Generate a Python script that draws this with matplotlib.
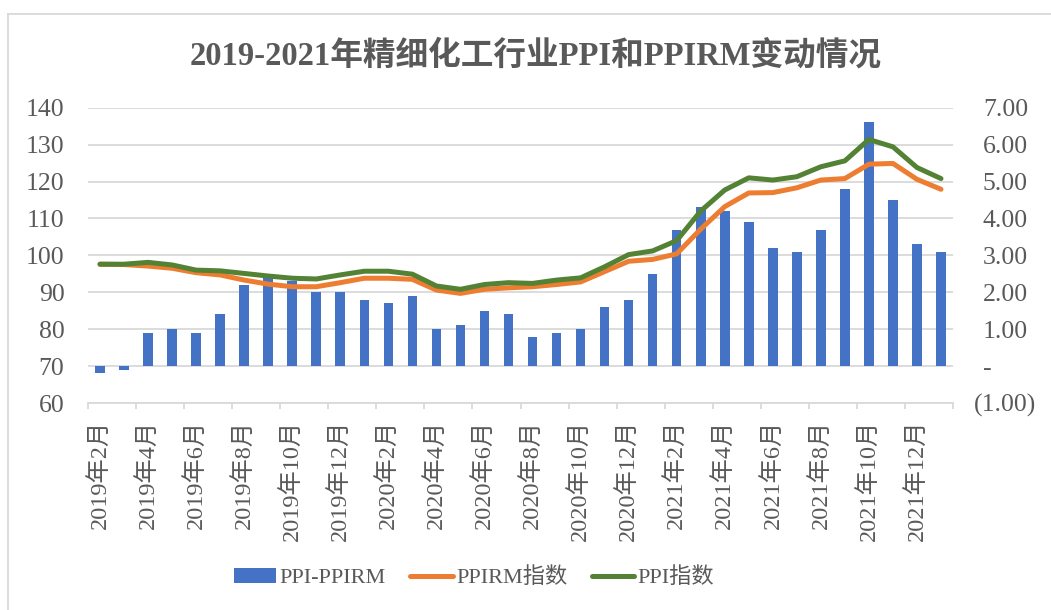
import matplotlib
matplotlib.use("Agg")
import matplotlib.pyplot as plt
from matplotlib.lines import Line2D
from matplotlib.patches import Patch
import matplotlib.transforms as mtransforms

plt.rcParams['font.family'] = ['Liberation Serif', 'Noto Sans CJK SC', 'DejaVu Sans']

months = ["2019年2月", "2019年3月", "2019年4月", "2019年5月", "2019年6月", "2019年7月",
          "2019年8月", "2019年9月", "2019年10月", "2019年11月", "2019年12月", "2020年1月",
          "2020年2月", "2020年3月", "2020年4月", "2020年5月", "2020年6月", "2020年7月",
          "2020年8月", "2020年9月", "2020年10月", "2020年11月", "2020年12月", "2021年1月",
          "2021年2月", "2021年3月", "2021年4月", "2021年5月", "2021年6月", "2021年7月",
          "2021年8月", "2021年9月", "2021年10月", "2021年11月", "2021年12月", "2022年1月"]

ppi_minus_ppirm = [-0.2, -0.1, 0.9, 1.0, 0.9, 1.4, 2.2, 2.4, 2.3, 2.0, 2.0, 1.8,
                   1.7, 1.9, 1.0, 1.1, 1.5, 1.4, 0.8, 0.9, 1.0, 1.6, 1.8, 2.5,
                   3.7, 4.3, 4.2, 3.9, 3.2, 3.1, 3.7, 4.8, 6.6, 4.5, 3.3, 3.1]

ppirm_index = [97.6, 97.5, 97.1, 96.5, 95.3, 94.7, 93.3, 92.2, 91.5, 91.5, 92.6, 93.8,
               93.8, 93.5, 90.6, 89.7, 90.8, 91.2, 91.5, 92.1, 92.8, 95.6, 98.4, 98.9,
               100.4, 107.1, 113.2, 116.9, 117.0, 118.3, 120.4, 120.8, 124.7, 124.9, 120.6, 117.9]

ppi_index = [97.6, 97.6, 98.1, 97.4, 96.0, 95.8, 95.1, 94.4, 93.8, 93.6, 94.7, 95.7,
             95.7, 94.9, 91.7, 90.8, 92.1, 92.6, 92.4, 93.3, 93.9, 96.9, 100.2, 101.2,
             104.0, 112.0, 117.7, 121.0, 120.4, 121.3, 124.0, 125.6, 131.4, 129.4, 123.8, 120.8]

left_ticks = [60, 70, 80, 90, 100, 110, 120, 130, 140]
right_ticks = [-1, 0, 1, 2, 3, 4, 5, 6, 7]
right_labels = ["(1.00)", "-", "1.00", "2.00", "3.00", "4.00", "5.00", "6.00", "7.00"]

title = "2019-2021年精细化工行业PPI和PPIRM变动情况"
series_names = ["PPI-PPIRM", "PPIRM指数", "PPI指数"]

BLUE = "#4472C4"
ORANGE = "#ED7D31"
GREEN = "#548235"
GRID = "#D9D9D9"
TXT = "#595959"

W, H = 1051, 610
fig = plt.figure(figsize=(W / 100, H / 100), dpi=100)
fig.patch.set_facecolor("white")

x0, x1, ytop, ybot = 88, 953, 107.7, 403
ax = fig.add_axes([x0 / W, 1 - ybot / H, (x1 - x0) / W, (ybot - ytop) / H])
ax2 = ax.twinx()

x = list(range(len(months)))

# bars on right axis
ax2.bar(x, ppi_minus_ppirm, width=0.4, color=BLUE, zorder=3)
ax2.set_ylim(-1, 7)
ax2.set_yticks(right_ticks)
ax2.yaxis.grid(True, color=GRID, lw=1.3, zorder=0)
ax2.set_axisbelow(True)
ax2.tick_params(axis='y', length=0, labelright=False)
for s in ax2.spines.values():
    s.set_visible(False)

# lines on left axis (on top)
ax.set_zorder(ax2.get_zorder() + 1)
ax.patch.set_visible(False)
ax.plot(x, ppirm_index, color=ORANGE, lw=3.6, solid_joinstyle='round', solid_capstyle='round')
ax.plot(x, ppi_index, color=GREEN, lw=3.6, solid_joinstyle='round', solid_capstyle='round')
ax.set_ylim(60, 140)
ax.set_yticks(left_ticks)
ax.tick_params(axis='y', length=0, pad=17, labelsize=18.5, labelcolor=TXT)

ax.set_xlim(-0.5, len(months) - 0.5)
ax.set_xticks(x[::2])
ax.set_xticklabels(months[::2], rotation=90, fontsize=17.5, color=TXT)
ax.set_xticks([i - 0.5 for i in range(0, len(months) + 1, 2)], minor=True)
ax.tick_params(axis='x', which='major', length=0, pad=12)
ax.tick_params(axis='x', which='minor', length=4.5, width=1.3, color=GRID, direction='out')
for k in ('left', 'right', 'top'):
    ax.spines[k].set_visible(False)
ax.spines['bottom'].set_color(GRID)
ax.spines['bottom'].set_linewidth(1.3)

# right axis labels (accounting-style alignment)
for v, lab in zip(right_ticks, right_labels):
    off = (974 - x1) if lab.startswith("(") else (983 - x1)
    tr = mtransforms.blended_transform_factory(ax2.transAxes, ax2.transData)
    tr = tr + mtransforms.ScaledTranslation(off / 100, 0, fig.dpi_scale_trans)
    ax2.text(1.0, v, lab, transform=tr, ha='left', va='center_baseline', fontsize=18.5, color=TXT)

# title
fig.text(536 / W, 1 - 56 / H, title, ha='center', va='center', fontsize=23.5,
         fontweight='bold', color=TXT)

# legend
handles = [Patch(facecolor=BLUE, edgecolor='none'),
           Line2D([0], [0], color=ORANGE, lw=3.6, solid_capstyle='round'),
           Line2D([0], [0], color=GREEN, lw=3.6, solid_capstyle='round')]
fig.legend(handles, series_names, loc='center', bbox_to_anchor=(474 / W, 1 - 578 / H),
           ncol=3, frameon=False, fontsize=16, handlelength=1.9, handletextpad=0.15,
           columnspacing=1.1, labelcolor=TXT)

# chart border
fig.add_artist(Line2D([7.5 / W, 7.5 / W], [0, 1 - 13.5 / H], transform=fig.transFigure,
                      color=GRID, lw=1.3))
fig.add_artist(Line2D([7.5 / W, 1], [1 - 13.5 / H, 1 - 13.5 / H], transform=fig.transFigure,
                      color=GRID, lw=1.3))

fig.savefig("out.png", dpi=100)
